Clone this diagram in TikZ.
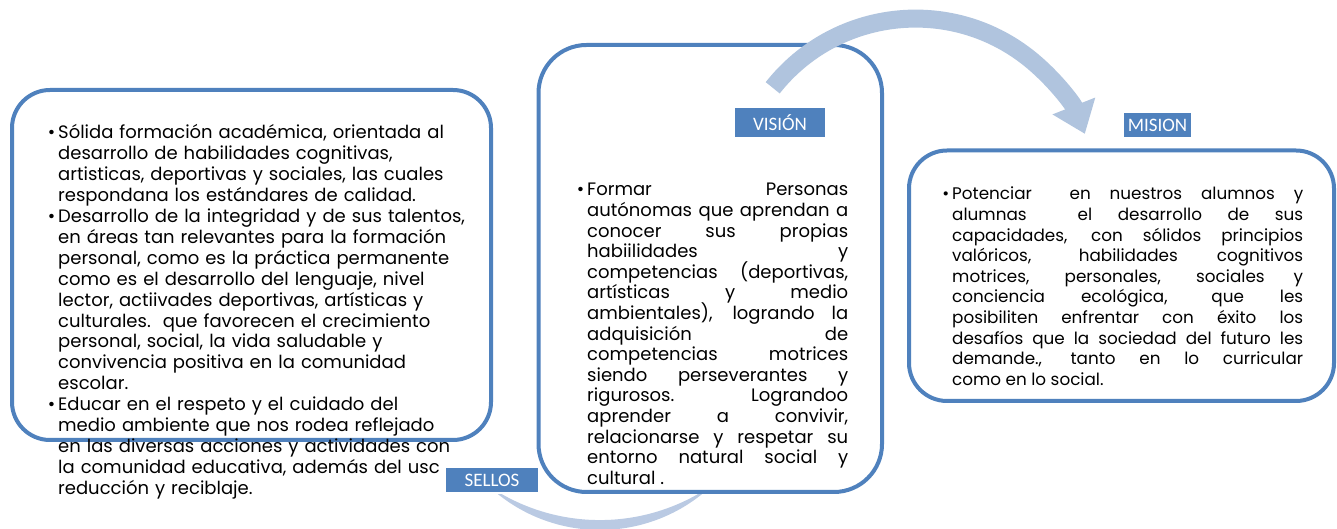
\documentclass[tikz,border=0pt]{standalone}
\usepackage{fontspec}
\setmainfont{Poppins}
\newfontfamily\tagfont{Carlito}
\usetikzlibrary{arrows.meta,positioning}
\definecolor{boxblue}{RGB}{79,129,189}
\definecolor{arrowblue}{RGB}{176,196,222}
\definecolor{arcblue}{RGB}{186,202,227}
\newcommand{\bodyfont}[2]{\fontsize{#1}{#2}\selectfont\lineskiplimit=-100pt\relax}
\tikzset{
  panel/.style={draw=boxblue,line width=4pt,fill=white,rounded corners=#1,inner sep=0pt},
  tag/.style={fill=boxblue,draw=white,line width=1.5pt,text=white,inner sep=0pt,
    font=\tagfont\fontsize{19}{19}\selectfont},
  body/.style={anchor=base west,inner sep=0pt,font=\bodyfont{18}{20.9}},
}
\newcommand{\bul}{\leavevmode\llap{\textbullet\hspace{3pt}}}
\begin{document}
\begin{tikzpicture}[x=1pt,y=1pt]
\useasboundingbox (0,0) rectangle (1337,529);

%% circular band at the bottom
\begin{scope}
\clip (0,0) rectangle (1337,529);
\fill[arcblue] (487.5,44) arc[start angle=226.4,end angle=313.6,radius=163.1pt]
  arc[start angle=304.6,end angle=235.4,radius=198.3pt] -- cycle;
\end{scope}

%% the three boxes
\node[panel=38pt,minimum width=479pt,minimum height=350pt] (sellos) at (251.5,264) {};
\node[panel=48pt,minimum width=343.5pt,minimum height=447pt] (vision) at (710.25,260.5) {};
\node[panel=38pt,minimum width=425pt,minimum height=250.5pt] (mision) at (1121.5,253.25) {};

%% arrow from vision to mision
\coordinate (arcstart) at (772.7,441.2);
\draw[arrowblue,line width=18pt,-{Triangle[length=30pt,width=44pt]}]
  (arcstart) arc[start angle=141.7,end angle=21.5,radius=182pt];

%% texts
\node[body,text width=440pt,align=left] (sellostext) at (58,390) {%
\bul Sólida formación académica, orientada al\\
desarrollo de habilidades cognitivas,\\
artisticas, deportivas y sociales, las cuales\\
respondana los estándares de calidad.\\
\bul Desarrollo de la integridad y de sus talentos,\\
en áreas tan relevantes para la formación\\
personal, como es la práctica permanente\\
como es el desarrollo del lenguaje, nivel\\
lector, actiivades deportivas, artísticas y\\
culturales.\ \ que favorecen el crecimiento\\
personal, social, la vida saludable y\\
convivencia positiva en la comunidad\\
escolar.\\
\bul Educar en el respeto y el cuidado del\\
medio ambiente que nos rodea reflejado\\
en las diversas acciones y actividades con\\
la comunidad educativa, además del usc\\
reducción y reciblaje.};

\node[body,text width=261pt,align=justify,font=\bodyfont{18}{20.6}] (visiontext) at (587,333) {%
\bul Formar Personas\linebreak
autónomas que aprendan a\linebreak
conocer sus propias\linebreak
habiilidades y\linebreak
competencias (deportivas,\linebreak
artísticas y medio\linebreak
ambientales), logrando la\linebreak
adquisición de\linebreak
competencias motrices\linebreak
siendo perseverantes y\linebreak
rigurosos. Lograndoo\linebreak
aprender a convivir,\linebreak
relacionarse y respetar su\linebreak
entorno natural social y\linebreak
cultural .};

\node[body,text width=351pt,align=justify,font=\bodyfont{16.8}{20.6}] (misiontext) at (952,329) {%
\bul Potenciar\ \ en nuestros alumnos y\linebreak
alumnas\ \ el desarrollo de sus\linebreak
capacidades, con sólidos principios\linebreak
valóricos, habilidades cognitivos\linebreak
motrices, personales, sociales y\linebreak
conciencia ecológica, que les\linebreak
posibiliten enfrentar con éxito los\linebreak
desafíos que la sociedad del futuro les\linebreak
demande., tanto en lo curricular\linebreak
como en lo social.};

%% labels
\node[tag,minimum width=92pt,minimum height=31pt] (visiontag) at (780,406.5) {VISIÓN};
\node[tag,minimum width=69pt,minimum height=26pt] (misiontag) at (1157.5,404) {MISION};
\node[tag,minimum width=94pt,minimum height=26pt] (sellostag) at (492,49) {SELLOS};
\end{tikzpicture}
\end{document}
